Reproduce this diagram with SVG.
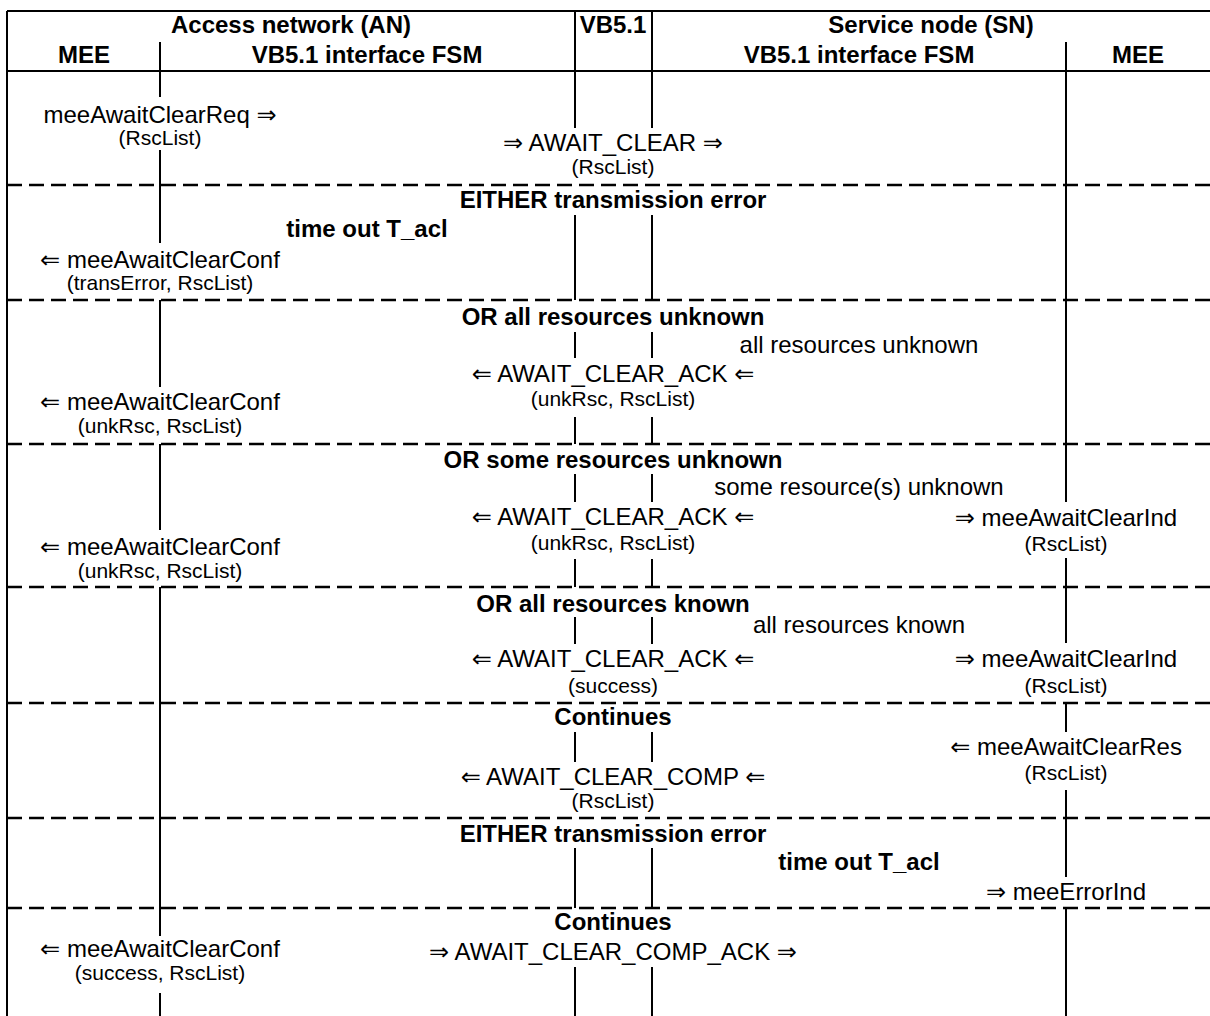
<svg xmlns="http://www.w3.org/2000/svg" width="1210" height="1016" viewBox="0 0 1210 1016">
<style>
text{font-family:"Liberation Sans","DejaVu Sans",Arial,sans-serif;text-anchor:middle;fill:#000}
.b{font-weight:bold;font-size:24px}
.m{font-size:24px}
.p{font-size:21px}
.s{stroke:#000;stroke-width:2;fill:none}
.d{stroke:#000;stroke-width:2.6;stroke-dasharray:15 7;fill:none}
</style>
<rect width="1210" height="1016" fill="#fff"/>
<g id="frame">
<path class="s" d="M7 11H1210M7 11V1016M7 71H1210"/>
</g>
<g id="header">
<text class="b" x="291" y="33">Access network (AN)</text>
<text class="b" x="613" y="33">VB5.1</text>
<text class="b" x="931" y="33">Service node (SN)</text>
<text class="b" x="84" y="63">MEE</text>
<text class="b" x="367" y="63">VB5.1 interface FSM</text>
<text class="b" x="859" y="63">VB5.1 interface FSM</text>
<text class="b" x="1138" y="63">MEE</text>
</g>
<g id="connectors">
<path class="s" d="M160 42V97M160 150V243M160 300V387M160 444V530M160 587V936M160 993V1016"/>
<path class="s" d="M575 11V128M575 215V300M575 332V358M575 417V444M575 474V502M575 559V587M575 617V644M575 732V762M575 848V908M575 967V1016"/>
<path class="s" d="M652 11V128M652 215V300M652 332V358M652 417V444M652 474V502M652 559V587M652 617V644M652 732V762M652 848V908M652 967V1016"/>
<path class="s" d="M1066 42V502M1066 558V643M1066 703V732M1066 790V877M1066 908V1016"/>
<path class="d" d="M7 185H1210M7 300H1210M7 444H1210M7 587H1210M7 703H1210M7 818H1210M7 908H1210"/>
</g>
<g id="row0">
<text class="m" x="160" y="123">meeAwaitClearReq ⇒</text>
<text class="p" x="160" y="145">(RscList)</text>
<text class="m" x="613" y="151">⇒ AWAIT_CLEAR ⇒</text>
<text class="p" x="613" y="174">(RscList)</text>
</g>
<g id="row1">
<text class="b" x="613" y="208">EITHER transmission error</text>
<text class="b" x="367" y="237">time out T_acl</text>
<text class="m" x="160" y="268">⇐ meeAwaitClearConf</text>
<text class="p" x="160" y="290">(transError, RscList)</text>
</g>
<g id="row2">
<text class="b" x="613" y="325">OR all resources unknown</text>
<text class="m" x="859" y="353">all resources unknown</text>
<text class="m" x="613" y="382">⇐ AWAIT_CLEAR_ACK ⇐</text>
<text class="p" x="613" y="406">(unkRsc, RscList)</text>
<text class="m" x="160" y="410">⇐ meeAwaitClearConf</text>
<text class="p" x="160" y="433">(unkRsc, RscList)</text>
</g>
<g id="row3">
<text class="b" x="613" y="468">OR some resources unknown</text>
<text class="m" x="859" y="495">some resource(s) unknown</text>
<text class="m" x="613" y="525">⇐ AWAIT_CLEAR_ACK ⇐</text>
<text class="p" x="613" y="550">(unkRsc, RscList)</text>
<text class="m" x="1066" y="526">⇒ meeAwaitClearInd</text>
<text class="p" x="1066" y="551">(RscList)</text>
<text class="m" x="160" y="555">⇐ meeAwaitClearConf</text>
<text class="p" x="160" y="578">(unkRsc, RscList)</text>
</g>
<g id="row4">
<text class="b" x="613" y="612">OR all resources known</text>
<text class="m" x="859" y="633">all resources known</text>
<text class="m" x="613" y="667">⇐ AWAIT_CLEAR_ACK ⇐</text>
<text class="p" x="613" y="693">(success)</text>
<text class="m" x="1066" y="667">⇒ meeAwaitClearInd</text>
<text class="p" x="1066" y="693">(RscList)</text>
</g>
<g id="row5">
<text class="b" x="613" y="725">Continues</text>
<text class="m" x="1066" y="755">⇐ meeAwaitClearRes</text>
<text class="p" x="1066" y="780">(RscList)</text>
<text class="m" x="613" y="785">⇐ AWAIT_CLEAR_COMP ⇐</text>
<text class="p" x="613" y="808">(RscList)</text>
</g>
<g id="row6">
<text class="b" x="613" y="842">EITHER transmission error</text>
<text class="b" x="859" y="870">time out T_acl</text>
<text class="m" x="1066" y="900">⇒ meeErrorInd</text>
</g>
<g id="row7">
<text class="b" x="613" y="930">Continues</text>
<text class="m" x="613" y="960">⇒ AWAIT_CLEAR_COMP_ACK ⇒</text>
<text class="m" x="160" y="957">⇐ meeAwaitClearConf</text>
<text class="p" x="160" y="980">(success, RscList)</text>
</g>
</svg>
